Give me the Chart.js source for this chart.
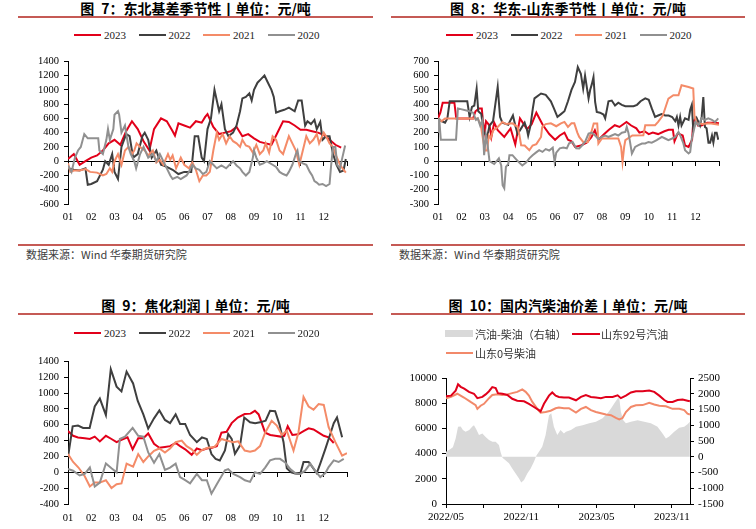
<!DOCTYPE html>
<html>
<head>
<meta charset="utf-8">
<script src="https://cdn.jsdelivr.net/npm/chart.js@4.4.1/dist/chart.umd.min.js"></script>
<style>
body { margin: 0; background: #fff; }
#page { position: relative; width: 756px; height: 529px; overflow: hidden; font-family: "Noto Sans CJK SC", sans-serif; }
canvas { position: absolute; }
.title { position: absolute; text-align: center; font-weight: 700; font-size: 14px; line-height: 16px; color: #000; white-space: nowrap; }
.rule { position: absolute; height: 2px; background: #c55a55; }
.src { position: absolute; font-size: 11px; line-height: 14px; color: #404040; white-space: nowrap; }
.leg { position: absolute; display: flex; align-items: center; height: 14px; font-family: "Liberation Serif", serif; font-size: 11px; color: #222; white-space: nowrap; }
.leg i { display: block; width: 27px; height: 2px; margin-right: 3px; }
.leg.cn { font-family: "Noto Sans CJK SC", sans-serif; color: #333; }
</style>
</head>
<body>
<div id="page">
  <div class="title" style="left:18px;width:355px;top:0px">图&ensp;7：东北基差季节性丨单位：元/吨</div>
  <div class="title" style="left:391px;width:354px;top:0px">图&ensp;8：华东-山东季节性丨单位：元/吨</div>
  <div class="title" style="left:18px;width:355px;top:297px">图&ensp;9：焦化利润丨单位：元/吨</div>
  <div class="title" style="left:391px;width:354px;top:297px">图&ensp;10：国内汽柴油价差丨单位：元/吨</div>
  <div class="rule" style="left:18px;width:355px;top:16px"></div>
  <div class="rule" style="left:391px;width:354px;top:16px"></div>
  <div class="rule" style="left:18px;width:355px;top:244px"></div>
  <div class="rule" style="left:391px;width:354px;top:244px"></div>
  <div class="rule" style="left:18px;width:355px;top:313px"></div>
  <div class="rule" style="left:391px;width:354px;top:313px"></div>
  <div class="src" style="left:26px;top:247px">数据来源：Wind 华泰期货研究院</div>
  <div class="src" style="left:399px;top:247px">数据来源：Wind 华泰期货研究院</div>

  <canvas id="c1" width="378" height="180" style="left:0;top:50px"></canvas>
  <canvas id="c2" width="378" height="180" style="left:378px;top:50px"></canvas>
  <canvas id="c3" width="378" height="179" style="left:0;top:350px"></canvas>
  <canvas id="c4" width="378" height="163" style="left:378px;top:366px"></canvas>
</div>

<script>
// ---- data ----
const monthLabels = ['01','02','03','04','05','06','07','08','09','10','11','12'];
const yearLabels = ['2023','2022','2021','2020'];
const dateLabels = ['2022/05','2022/11','2023/05','2023/11'];

// 东北基差 [month, 元/吨]
const neBasis2023 = [[0,30],[0.25,100],[0.5,-50],[0.75,0],[1,50],[1.25,80],[1.5,150],[1.75,250],[2,300],[2.25,230],[2.5,420],[2.75,560],[3,450],[3.25,280],[3.5,150],[3.7,450],[4,600],[4.25,560],[4.5,420],[4.6,360],[4.75,530],[5,500],[5.25,470],[5.5,560],[5.75,540],[5.9,620],[6,660],[6.25,480],[6.5,380],[6.75,400],[7,420],[7.25,480],[7.5,350],[7.75,380],[8,320],[8.25,270],[8.5,250],[8.75,230],[8.95,360],[9.25,560],[9.5,550],[9.75,500],[10,440],[10.25,440],[10.5,420],[10.75,400],[11,370],[11.25,300],[11.5,230],[11.75,190]];
const neBasis2022 = [[0,-100],[0.25,-120],[0.5,-130],[0.75,-100],[0.85,-330],[1,-320],[1.25,-280],[1.5,-120],[1.6,0],[1.75,-50],[1.9,100],[2,-150],[2.15,-250],[2.3,200],[2.5,380],[2.65,350],[2.8,50],[3,100],[3.2,350],[3.3,400],[3.45,300],[3.6,50],[3.8,150],[4,-50],[4.25,-80],[4.5,-120],[4.75,-180],[5,-150],[5.3,-150],[5.45,350],[5.6,350],[5.75,50],[5.85,0],[6,450],[6.15,600],[6.3,1000],[6.4,850],[6.5,700],[6.6,800],[6.75,450],[6.9,350],[7.1,400],[7.25,500],[7.4,700],[7.5,880],[7.65,900],[7.8,950],[7.9,850],[8,1000],[8.15,1100],[8.3,1150],[8.45,1200],[8.6,1100],[8.75,1000],[8.85,900],[8.95,680],[9.1,700],[9.3,720],[9.5,750],[9.75,700],[9.9,850],[10.05,850],[10.2,500],[10.3,560],[10.45,520],[10.6,580],[10.7,450],[10.85,550],[10.95,300],[11.1,350],[11.25,350],[11.4,100],[11.55,-50],[11.7,-150],[11.85,-130],[11.95,30]];
const neBasis2021 = [[0,-30],[0.1,-150],[0.25,-130],[0.5,-130],[0.75,-110],[0.95,-150],[1.25,-160],[1.5,-200],[1.65,-180],[1.8,-100],[1.9,-150],[2,0],[2.15,100],[2.3,-50],[2.45,150],[2.6,200],[2.75,100],[2.85,150],[2.95,250],[3.1,200],[3.3,150],[3.45,80],[3.65,150],[3.8,-20],[3.95,20],[4.1,-50],[4.3,100],[4.4,20],[4.5,80],[4.65,-100],[4.85,50],[5,-50],[5.2,-100],[5.35,-20],[5.5,-120],[5.65,-280],[5.8,-200],[5.95,-200],[6.1,-150],[6.25,150],[6.4,400],[6.5,300],[6.65,380],[6.8,250],[6.95,350],[7.1,280],[7.25,250],[7.4,200],[7.5,300],[7.65,220],[7.8,200],[7.95,120],[8.1,230],[8.25,100],[8.4,150],[8.5,250],[8.65,120],[8.8,350],[8.95,300],[9.1,150],[9.25,100],[9.4,250],[9.5,350],[9.65,250],[9.8,150],[9.95,-50],[10.1,150],[10.25,350],[10.4,250],[10.55,300],[10.7,380],[10.8,250],[11,400],[11.1,350],[11.25,250],[11.4,200],[11.5,100],[11.7,-50],[11.85,-120],[11.95,-160]];
const neBasis2020 = [[0,-60],[0.15,-150],[0.3,50],[0.43,150],[0.55,200],[0.7,380],[0.85,320],[1.07,320],[1.3,320],[1.35,150],[1.5,100],[1.65,300],[1.72,450],[1.8,300],[1.95,450],[2,650],[2.15,700],[2.2,650],[2.3,400],[2.45,500],[2.6,200],[2.7,100],[2.85,0],[2.93,-100],[3.1,100],[3.25,200],[3.45,50],[3.65,100],[3.8,0],[3.95,100],[4.1,0],[4.25,-100],[4.4,-200],[4.5,-250],[4.7,-220],[4.85,-250],[5.1,-200],[5.2,-150],[5.35,-50],[5.5,-100],[5.65,-120],[5.8,-180],[5.95,-150],[6.1,0],[6.25,-50],[6.4,-100],[6.6,-60],[6.8,-100],[6.95,-50],[7.1,0],[7.25,-60],[7.4,-100],[7.5,-150],[7.65,-200],[7.8,-150],[7.95,50],[8,150],[8.1,50],[8.25,-50],[8.4,-30],[8.55,0],[8.65,-20],[8.8,-50],[8.95,-80],[9.1,-150],[9.25,-180],[9.4,-200],[9.5,-150],[9.65,-50],[9.8,100],[9.87,150],[9.95,0],[10.1,-30],[10.25,-50],[10.4,-150],[10.5,-200],[10.6,-280],[10.7,-300],[10.8,-330],[10.95,-320],[11.1,-350],[11.25,-320],[11.32,-50],[11.4,200],[11.5,200],[11.58,-50],[11.7,-100],[11.8,50],[11.92,220]];

// 华东-山东
const ecSd2023 = [[0,300],[0.1,340],[0.2,410],[0.7,410],[0.78,300],[1.5,300],[1.6,350],[1.75,370],[1.87,370],[1.92,275],[2,200],[2.05,280],[2.2,250],[2.28,170],[2.4,270],[2.55,217],[2.83,170],[3.1,230],[3.3,117],[3.5,300],[3.8,225],[4,260],[4.2,340],[4.47,255],[4.75,190],[5,150],[5.2,180],[5.4,200],[5.55,150],[5.7,140],[5.85,100],[6.1,110],[6.35,130],[6.55,168],[6.7,217],[6.85,150],[7.1,190],[7.3,220],[7.55,252],[7.75,240],[8.05,275],[8.25,250],[8.47,230],[8.6,200],[8.82,210],[9,190],[9.17,200],[9.4,190],[9.67,210],[9.85,220],[10.03,220],[10.1,140],[10.24,195],[10.45,180],[10.55,110],[10.7,100],[10.85,150],[10.9,275],[11,300],[11.1,250],[11.25,250],[11.5,270],[11.8,270],[12,265]];
const ecSd2022 = [[0,300],[0.15,280],[0.3,270],[0.4,300],[0.5,420],[1.25,420],[1.35,310],[1.45,380],[1.55,390],[1.65,508],[1.72,350],[1.85,330],[1.95,205],[2.1,170],[2.2,250],[2.35,280],[2.55,520],[2.65,310],[2.75,270],[3,255],[3.2,320],[3.3,250],[3.4,190],[3.55,230],[3.7,270],[3.8,220],[3.85,180],[3.95,250],[4.05,370],[4.12,440],[4.4,474],[4.6,465],[4.82,420],[4.95,370],[5.1,310],[5.25,330],[5.4,350],[5.55,420],[5.7,500],[5.85,555],[5.97,660],[6.1,613],[6.2,508],[6.28,600],[6.43,439],[6.5,500],[6.57,540],[6.64,590],[6.71,415],[6.78,345],[6.92,340],[7.07,327],[7.14,300],[7.28,420],[7.42,425],[7.56,390],[7.7,410],[7.85,395],[8,385],[8.35,385],[8.5,395],[8.65,420],[8.85,440],[9,430],[9.13,370],[9.27,310],[9.4,320],[9.55,330],[9.7,320],[9.85,320],[10,310],[10.13,280],[10.2,310],[10.27,250],[10.34,310],[10.4,250],[10.55,300],[10.7,290],[10.77,360],[10.84,395],[10.9,220],[11.05,300],[11.19,250],[11.26,310],[11.33,450],[11.4,240],[11.47,230],[11.55,130],[11.62,130],[11.7,180],[11.76,130],[11.83,200],[11.9,200],[11.97,150]];
const ecSd2021 = [[0,300],[0.15,280],[0.3,300],[1.7,300],[1.83,250],[1.92,157],[2,75],[2.1,75],[2.17,180],[2.25,160],[2.35,215],[2.55,240],[2.75,275],[2.9,260],[3.18,265],[3.4,240],[3.47,190],[3.55,112],[3.7,110],[3.9,77],[4.04,110],[4.2,120],[4.4,170],[4.45,240],[4.6,260],[4.82,265],[5.05,245],[5.25,265],[5.4,275],[5.55,240],[5.7,265],[5.82,265],[5.95,200],[6.03,170],[6.2,135],[6.4,135],[6.55,205],[6.65,264],[6.8,264],[6.85,124],[7,159],[7.7,159],[7.82,100],[7.88,-5],[7.95,100],[8,147],[8.3,180],[8.77,182],[8.85,252],[9.27,252],[9.4,275],[9.6,320],[9.84,439],[10.05,462],[10.27,462],[10.4,532],[10.7,520],[10.9,509],[10.95,322],[11.05,264],[11.3,260],[11.6,265],[12,255]];
const ecSd2020 = [[0,200],[0.05,300],[0.12,150],[0.77,150],[0.85,370],[1.34,350],[1.5,340],[1.62,290],[1.7,300],[1.8,250],[1.9,290],[1.97,42],[2.05,180],[2.12,110],[2.2,0],[2.4,-20],[2.6,20],[2.7,-30],[2.76,-168],[2.83,-190],[2.9,-40],[3,-20],[3.05,42],[3.18,42],[3.3,20],[3.47,-10],[3.6,-30],[3.76,-10],[3.9,20],[4.04,42],[4.18,60],[4.32,77],[4.46,65],[4.6,85],[4.75,75],[4.9,95],[4.98,-5],[5.05,60],[5.2,90],[5.35,95],[5.5,90],[5.6,125],[5.75,135],[5.9,90],[6.03,89],[6.15,110],[6.28,135],[6.43,194],[6.57,200],[6.71,180],[6.85,155],[7,170],[7.14,180],[7.28,170],[7.42,180],[7.56,190],[7.7,180],[7.85,200],[8,205],[8.06,240],[8.13,200],[8.2,135],[8.28,54],[8.35,77],[8.42,100],[8.56,112],[8.71,124],[8.85,124],[8.99,135],[9.13,130],[9.34,147],[9.56,170],[9.7,159],[9.84,147],[10,159],[10.13,170],[10.27,205],[10.34,182],[10.48,124],[10.55,77],[10.7,54],[10.77,65],[10.84,159],[10.91,205],[11,275],[11.12,252],[11.26,300],[11.4,290],[11.54,300],[11.7,290],[11.83,275],[11.97,300]];

// 焦化利润
const coke2023 = [[0,520],[0.22,460],[0.43,440],[0.72,430],[0.94,420],[1.15,450],[1.37,390],[1.63,460],[1.87,420],[2.09,380],[2.3,410],[2.56,440],[2.78,290],[3.02,430],[3.24,430],[3.45,490],[3.7,360],[3.93,310],[4.17,320],[4.39,330],[4.63,370],[4.82,330],[5.04,290],[5.32,220],[5.54,300],[5.76,280],[5.97,300],[6.19,310],[6.4,330],[6.6,500],[6.82,510],[7.04,620],[7.3,690],[7.6,735],[7.85,740],[8.04,775],[8.2,730],[8.48,500],[8.7,470],[8.91,460],[9.15,450],[9.3,460],[9.45,580],[9.65,470],[9.9,480],[10.13,520],[10.35,555],[10.56,540],[10.78,500],[11,460],[11.21,440],[11.43,370]];
const coke2022 = [[0,190],[0.2,580],[0.43,590],[0.65,560],[0.93,560],[1.15,830],[1.37,930],[1.63,720],[1.84,1300],[2.09,1080],[2.3,1020],[2.52,1270],[2.8,1120],[3,900],[3.24,730],[3.45,550],[3.7,680],[3.93,780],[4.17,660],[4.39,620],[4.63,730],[4.82,610],[5.04,610],[5.25,470],[5.54,380],[5.76,440],[5.97,420],[6.17,230],[6.35,170],[6.53,150],[6.75,275],[6.89,483],[7.04,420],[7.18,233],[7.4,340],[7.58,690],[7.83,630],[8.05,620],[8.26,630],[8.5,650],[8.69,775],[8.91,770],[9.1,600],[9.27,380],[9.41,50],[9.6,0],[9.77,-15],[9.99,-20],[10.13,130],[10.35,130],[10.56,46],[10.7,-10],[10.85,110],[11.07,296],[11.28,483],[11.43,620],[11.57,692],[11.79,442]];
const coke2021 = [[0,230],[0.22,130],[0.45,60],[0.72,-50],[0.94,-180],[1.15,-130],[1.37,-130],[1.63,-100],[1.87,-200],[2.09,-150],[2.3,-140],[2.52,110],[2.8,70],[3.02,230],[3.24,130],[3.45,200],[3.7,270],[3.93,300],[4.17,250],[4.39,300],[4.63,380],[4.89,400],[5.1,330],[5.32,290],[5.54,220],[5.76,280],[6,310],[6.3,320],[6.6,420],[6.82,400],[7.11,380],[7.32,390],[7.6,275],[7.83,260],[8.04,275],[8.26,330],[8.48,500],[8.76,650],[8.98,590],[9.2,470],[9.41,525],[9.7,275],[9.91,500],[10.13,950],[10.35,830],[10.56,790],[10.78,860],[11,850],[11.21,570],[11.5,380],[11.79,210],[12,240]];
const coke2020 = [[0,42],[0.22,20],[0.5,-40],[0.72,-20],[0.94,60],[1.15,-180],[1.37,-130],[1.63,110],[1.87,50],[2.09,0],[2.23,420],[2.45,450],[2.78,560],[3.02,460],[3.24,450],[3.45,250],[3.7,120],[3.93,230],[4.17,30],[4.39,60],[4.63,110],[4.82,-60],[5.04,-100],[5.25,-140],[5.54,-20],[5.76,-100],[5.97,-100],[6.17,-270],[6.4,-150],[6.75,25],[6.89,40],[7.11,-20],[7.4,-60],[7.61,-100],[7.83,-121],[8.04,0],[8.26,-20],[8.48,60],[8.69,150],[8.91,170],[9.12,170],[9.34,125],[9.56,40],[9.77,-10],[9.99,-20],[10.2,20],[10.42,110],[10.63,20],[10.85,-60],[11.07,-10],[11.21,65],[11.43,150],[11.64,130],[11.86,170]];

// 汽柴油 [months since 2022/05, 元/吨]
const gasDieselSpread = [[0,160],[0.3,230],[0.55,300],[0.77,580],[0.96,950],[1.17,960],[1.35,850],[1.56,790],[1.85,850],[2.1,960],[2.23,1000],[2.4,880],[2.63,690],[2.9,740],[3.16,630],[3.43,530],[3.7,480],[3.96,480],[4.22,370],[4.35,150],[4.5,-30],[4.62,-75],[5.02,-210],[5.28,-370],[5.55,-530],[5.82,-690],[6,-815],[6.22,-740],[6.48,-530],[6.75,-370],[7.01,-160],[7.22,50],[7.41,160],[7.67,320],[7.94,690],[8.21,1320],[8.39,1380],[8.6,950],[8.87,690],[9.13,850],[9.4,740],[9.56,790],[9.96,850],[10.36,950],[10.89,1000],[11.42,1060],[11.95,1110],[12.48,1220],[12.88,1380],[13.15,1530],[13.41,1690],[13.68,1850],[13.81,1870],[13.94,1430],[14.13,1160],[14.34,1060],[14.74,1110],[15.27,1160],[15.8,1110],[16.33,1060],[16.86,950],[17.26,740],[17.53,580],[17.79,640],[18.19,790],[18.59,920],[18.99,950],[19.25,1030],[19.44,1110]];
const sdGasoline92 = [[0,8550],[0.4,8600],[0.77,9000],[0.96,9500],[1.17,9300],[1.45,9150],[1.83,8900],[2.23,8750],[2.5,8400],[2.9,8500],[3.16,8700],[3.43,8950],[3.69,9280],[3.96,9200],[4.14,8800],[4.49,8750],[4.89,8650],[5.28,8350],[5.68,8200],[6.22,8150],[6.61,7950],[7.01,7700],[7.41,7450],[7.54,7350],[7.81,7950],[8.21,8600],[8.47,8850],[8.74,8600],[9,8500],[9.4,8450],[9.8,8450],[10.36,8230],[10.76,8500],[11.15,8650],[11.55,8500],[11.95,8450],[12.35,8400],[12.75,8500],[13.28,8500],[13.68,8630],[13.94,8400],[14.34,8600],[14.74,8850],[15.14,8950],[15.67,8950],[16.2,9000],[16.6,8900],[17,8600],[17.4,8250],[17.66,8100],[18.06,8100],[18.46,8250],[18.86,8300],[19.25,8200],[19.44,8150]];
const sdDiesel0 = [[0,8400],[0.4,8500],[0.9,8750],[1.43,8450],[1.96,8100],[2.36,7850],[2.5,7550],[2.76,7800],[3.03,7950],[3.43,8400],[3.69,8650],[4.09,8700],[4.49,8650],[4.89,8700],[5.28,8800],[5.68,8900],[6.08,9100],[6.35,8900],[6.61,8600],[6.88,8100],[7.28,7550],[7.54,7250],[7.94,7300],[8.34,7400],[8.74,7600],[9,7650],[9.4,7600],[9.8,7600],[10.36,7250],[10.76,7550],[11.15,7700],[11.55,7450],[11.95,7300],[12.35,7200],[12.75,7100],[13.15,7050],[13.54,6830],[13.81,6720],[14.07,6820],[14.34,7300],[14.74,7700],[15.14,7830],[15.67,7850],[16.2,8040],[16.6,7900],[17,7800],[17.53,7750],[18.06,7550],[18.59,7550],[18.99,7450],[19.25,7170],[19.44,7100]];

// ---- styles ----
const yearColors = ['#e2001a', '#3f3f3f', '#f48b68', '#909090'];
const gasColor = '#e0001b';
const dieselColor = '#f2896a';
const spreadColor = '#d9d9d9';

Chart.defaults.font.family = '"Liberation Serif", "Times New Roman", serif';
Chart.defaults.color = '#000';

const page = document.getElementById('page');
const toXY = pairs => pairs.map(([x, y]) => ({x, y}));

function addLegend(x0, yMid, step, labels, colors) {
    labels.forEach((t, i) => {
        const d = document.createElement('div');
        d.className = 'leg';
        d.style.left = (x0 + i * step) + 'px';
        d.style.top = (yMid - 7) + 'px';
        d.innerHTML = '<i style="background:' + colors[i] + '"></i>' + t;
        page.appendChild(d);
    });
}

function seasonChart(id, series, yMin, yMax, yStep, yAxisW, padRight, padTop, xAxisH, labelPad) {
    return new Chart(document.getElementById(id), {
        type: 'line',
        data: {
            datasets: series.map((s, i) => ({
                label: yearLabels[i],
                data: toXY(s),
                borderColor: yearColors[i],
                borderWidth: 2,
                pointRadius: 0,
                order: series.length - 1 - i
            }))
        },
        options: {
            responsive: false,
            animation: false,
            layout: { padding: { top: padTop, right: padRight, left: 0, bottom: 0 } },
            plugins: { legend: { display: false }, tooltip: { enabled: false } },
            scales: {
                x: {
                    type: 'linear', min: 0, max: 12,
                    afterFit: s => { s.height = xAxisH; },
                    ticks: {
                        stepSize: 1, autoSkip: false, maxRotation: 0, padding: labelPad,
                        font: { size: 10.5 },
                        callback: v => monthLabels[v] ?? ''
                    },
                    grid: { display: false, drawTicks: false },
                    border: { display: false }
                },
                // zero line with month ticks
                x0: {
                    type: 'linear', position: { y: 0 }, min: 0, max: 12,
                    ticks: { display: false, stepSize: 1 },
                    grid: { drawOnChartArea: false, drawTicks: true, tickLength: 4, color: '#000' },
                    border: { color: '#000' }
                },
                y: {
                    min: yMin, max: yMax,
                    afterFit: s => { s.width = yAxisW; },
                    ticks: { stepSize: yStep, autoSkip: false, padding: 5, font: { size: 10.5 }, callback: v => v },
                    grid: { drawOnChartArea: false, tickLength: 4, color: '#000' },
                    border: { color: '#000' }
                }
            }
        }
    });
}

seasonChart('c1', [neBasis2023, neBasis2022, neBasis2021, neBasis2020], -600, 1400, 200, 68, 31, 11, 26, 7);
seasonChart('c2', [ecSd2023, ecSd2022, ecSd2021, ecSd2020], -300, 700, 100, 60, 37, 11, 26, 7);
seasonChart('c3', [coke2023, coke2022, coke2021, coke2020], -400, 1400, 200, 68, 31, 10, 25, 8);

addLegend(74, 35, 64.5, yearLabels, yearColors);
addLegend(446, 35, 64.5, yearLabels, yearColors);
addLegend(74, 333, 64.5, yearLabels, yearColors);

new Chart(document.getElementById('c4'), {
    type: 'line',
    data: {
        datasets: [
            { label: '汽油-柴油（右轴）', data: toXY(gasDieselSpread), yAxisID: 'y1',
              fill: 'origin', backgroundColor: spreadColor, borderWidth: 0, borderColor: 'rgba(0,0,0,0)', pointRadius: 0, order: 3 },
            { label: '山东92号汽油', data: toXY(sdGasoline92), yAxisID: 'y',
              borderColor: gasColor, borderWidth: 2, pointRadius: 0, order: 1 },
            { label: '山东0号柴油', data: toXY(sdDiesel0), yAxisID: 'y',
              borderColor: dieselColor, borderWidth: 2, pointRadius: 0, order: 2 }
        ]
    },
    options: {
        responsive: false,
        animation: false,
        layout: { padding: { top: 12, right: 0, left: 0, bottom: 0 } },
        plugins: { legend: { display: false }, tooltip: { enabled: false } },
        scales: {
            x: {
                type: 'linear', min: 0, max: 19.45,
                afterFit: s => { s.height = 25; },
                ticks: {
                    stepSize: 3, includeBounds: false, autoSkip: false, maxRotation: 0, padding: 3,
                    font: { size: 11 },
                    callback: v => (v % 6 === 0 ? dateLabels[v / 6] : '')
                },
                grid: { drawOnChartArea: false, tickLength: 4, color: '#000' },
                border: { color: '#000' }
            },
            y: {
                position: 'left', min: 0, max: 10000,
                afterFit: s => { s.width = 68; },
                ticks: { stepSize: 2000, autoSkip: false, padding: 5, font: { size: 11 }, callback: v => v },
                grid: { drawOnChartArea: false, tickLength: 4, color: '#000' },
                border: { color: '#000' }
            },
            y1: {
                position: 'right', min: -1500, max: 2500,
                afterFit: s => { s.width = 66; },
                ticks: { stepSize: 500, autoSkip: false, padding: 4, font: { size: 11 }, callback: v => v },
                grid: { drawOnChartArea: false, tickLength: 4, color: '#000' },
                border: { color: '#000' }
            }
        }
    }
});

// legend for 图 10
(function () {
    const items = [
        { left: 445, mid: 333.5, text: '汽油-柴油（右轴）', swatch: 'width:28px;height:7px;margin-right:2px;background:' + spreadColor },
        { left: 572, mid: 333.5, text: '山东92号汽油', swatch: 'width:28px;height:2px;margin-right:1px;background:' + gasColor },
        { left: 446, mid: 353, text: '山东0号柴油', swatch: 'width:27px;height:2px;margin-right:2px;background:' + dieselColor }
    ];
    items.forEach(it => {
        const d = document.createElement('div');
        d.className = 'leg cn';
        d.style.left = it.left + 'px';
        d.style.top = (it.mid - 7) + 'px';
        d.innerHTML = '<i style="' + it.swatch + '"></i>' + it.text;
        page.appendChild(d);
    });
})();
</script>
</body>
</html>
